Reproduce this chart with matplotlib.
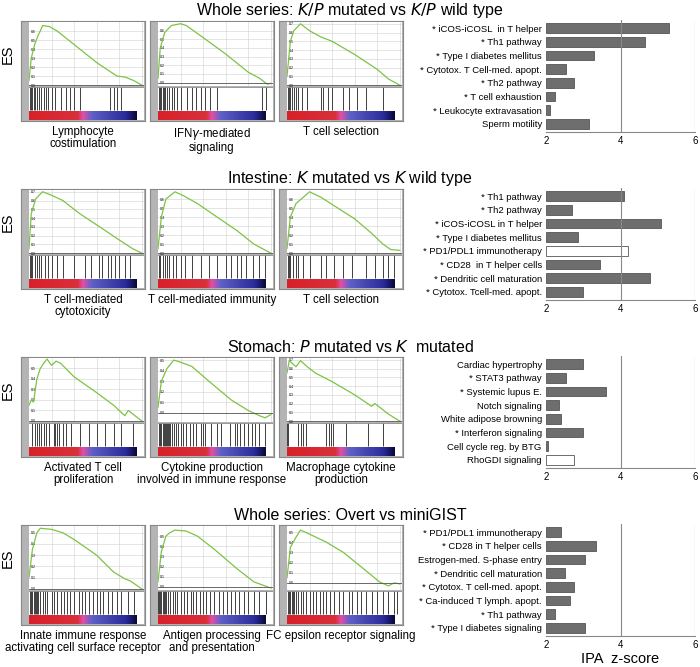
import numpy as np
import matplotlib.pyplot as plt
from matplotlib.colors import LinearSegmentedColormap

row_titles = [
    r'Whole series: $\it{K/P}$ mutated vs $\it{K/P}$ wild type',
    r'Intestine: $\it{K}$ mutated vs $\it{K}$ wild type',
    r'Stomach: $\it{P}$ mutated vs $\it{K}$  mutated',
    'Whole series: Overt vs miniGIST',
]

gsea_names = [
    ['Lymphocyte\ncostimulation', 'IFN$\\gamma$-mediated\nsignaling', 'T cell selection'],
    ['T cell-mediated\ncytotoxicity', 'T cell-mediated immunity', 'T cell selection'],
    ['Activated T cell\nproliferation', 'Cytokine production\ninvolved in immune response', 'Macrophage cytokine\nproduction'],
    ['Innate immune response\nactivating cell surface receptor', 'Antigen processing\nand presentation', 'FC epsilon receptor signaling'],
]

# enrichment score knots (rank fraction, ES)
es_x = [
    [[0, .02, .05, .08, .1, .12, .18, .25, .4, .6, .78, .85, .93, 1],
     [0, .02, .06, .12, .2, .25, .4, .6, .8, .9, .97, 1],
     [0, .03, .06, .12, .2, .3, .4, .6, .8, .9, 1]],
    [[0, .02, .06, .12, .2, .3, .45, .65, .8, .92, 1],
     [0, .03, .07, .15, .22, .35, .5, .7, .85, 1],
     [0, .03, .08, .2, .3, .45, .6, .75, .85, .92, 1]],
    [[0, .02, .04, .07, .1, .13, .16, .2, .24, .28, .4, .6, .75, .85, .88, 1],
     [0, .03, .08, .14, .2, .3, .45, .65, .8, .9, .95, 1],
     [0, .02, .08, .12, .18, .25, .4, .6, .75, .78, .9, 1]],
    [[0, .03, .07, .1, .2, .3, .4, .6, .75, .85, .9, 1],
     [0, .03, .07, .1, .15, .25, .35, .5, .7, .85, 1],
     [0, .03, .08, .12, .2, .35, .5, .7, .82, .9, .95, 1]],
]
es_y = [
    [[.05, .3, .45, .55, .6, .66, .65, .6, .45, .25, .1, .09, .05, 0],
     [.05, .4, .58, .66, .68, .66, .52, .33, .12, .05, -.02, -.01],
     [.1, .5, .62, .7, .62, .55, .5, .35, .18, .07, 0]],
    [[.05, .45, .62, .7, .66, .6, .45, .28, .15, .05, 0],
     [.05, .4, .6, .68, .64, .55, .42, .25, .1, 0],
     [.05, .4, .55, .68, .62, .5, .38, .22, .1, .04, .03]],
    [[.15, .2, .18, .4, .5, .55, .59, .53, .57, .55, .42, .27, .15, .05, .1, 0],
     [.05, .3, .42, .5, .48, .44, .3, .12, .02, -.03, -.05, -.02],
     [.55, .69, .62, .69, .62, .55, .45, .3, .17, .2, .08, 0]],
    [[.1, .35, .5, .54, .53, .5, .44, .3, .15, .09, .07, 0],
     [.05, .35, .5, .53, .56, .55, .5, .37, .18, .05, -.01],
     [.05, .35, .45, .52, .48, .4, .3, .12, .01, -.03, 0, -.01]],
]
es_ymax = [[.7, .7, .72], [.72, .7, .7], [.6, .52, .72], [.56, .6, .56]]
es_ymin = [[0, -.03, 0], [0, 0, 0], [0, -.08, 0], [0, -.02, -.06]]

hits = [
    [[.01, .02, .03, .04, .05, .07, .09, .11, .13, .15, .17, .2, .23, .28, .33, .36, .4, .45, .72, .75, .78, .82],
     [.01, .02, .03, .04, .05, .06, .08, .1, .12, .14, .17, .2, .26, .3, .34, .38, .42, .46, .52, .92, .96],
     [.01, .02, .03, .04, .06, .08, .1, .13, .18, .3, .32, .36, .4, .5, .55, .62, .7, .85]],
    [[.01, .02, .03, .05, .07, .09, .11, .14, .17, .2, .25, .3, .4, .5, .55, .62, .65, .7, .73, .76, .8, .85, .9],
     [.01, .02, .04, .06, .08, .1, .13, .16, .2, .24, .3, .38, .45, .52, .6, .65, .7, .74, .78, .84, .9, .95],
     [.01, .02, .03, .05, .08, .1, .14, .2, .3, .35, .42, .5, .58, .7, .78, .85, .9, .95]],
    [[.03, .05, .07, .09, .11, .13, .15, .18, .22, .23, .25, .27, .3, .33, .37, .45, .53, .6, .67, .75, .82, .92],
     [.01, .02, .03, .04, .05, .06, .07, .08, .09, .1, .11, .12, .14, .16, .18, .2, .22, .25, .28, .31, .34, .38, .4, .42, .47, .52, .56, .64, .68, .7, .73, .76, .8, .83, .86, .9, .95],
     [.0, .01, .1, .12, .14, .17, .35, .37, .39, .41, .52, .72, .85]],
    [[.01, .02, .03, .04, .05, .06, .07, .08, .1, .12, .14, .16, .2, .22, .25, .28, .31, .34, .36, .4, .44, .47, .5, .53, .57, .6, .63, .66, .7, .74, .78, .82, .88, .93],
     [.0, .01, .02, .03, .04, .05, .06, .07, .09, .11, .13, .15, .17, .2, .23, .26, .29, .31, .34, .37, .4, .43, .46, .5, .54, .58, .61, .65, .68, .72, .76, .8, .85, .9, .96],
     [.01, .02, .03, .04, .05, .06, .08, .1, .12, .14, .17, .2, .23, .26, .29, .32, .35, .38, .42, .46, .5, .55, .58, .62, .66, .7, .75, .8, .85, .9, .95, .98]],
]

bar_labels = [
    ['* iCOS-iCOSL  in T helper', '* Th1 pathway', '* Type I diabetes mellitus', '* Cytotox. T Cell-med. apopt.',
     '* Th2 pathway', '* T cell exhaustion', '* Leukocyte extravasation', 'Sperm motility'],
    ['* Th1 pathway', '* Th2 pathway', '* iCOS-iCOSL in T helper', '* Type I diabetes mellitus',
     '* PD1/PDL1 immunotherapy', '* CD28  in T helper cells', '* Dendritic cell maturation', '* Cytotox. Tcell-med. apopt.'],
    ['Cardiac hypertrophy', '* STAT3 pathway', '* Systemic lupus E.', 'Notch signaling',
     'White adipose browning', '* Interferon signaling', 'Cell cycle reg. by BTG', 'RhoGDI signaling'],
    ['* PD1/PDL1 immunotherapy', '* CD28 in T helper cells', 'Estrogen-med. S-phase entry', '* Dendritic cell maturation',
     '* Cytotox. T cell-med. apopt.', '* Ca-induced T lymph. apopt.', '* Th1 pathway', '* Type I diabetes signaling'],
]
bar_values = [
    [5.3, 4.65, 3.3, 2.55, 2.75, 2.25, 2.1, 3.15],
    [4.1, 2.7, 5.1, 2.85, 4.2, 3.45, 4.8, 3.0],
    [3.0, 2.55, 3.6, 2.35, 2.4, 3.0, 2.05, 2.75],
    [2.4, 3.35, 3.05, 2.5, 2.75, 2.65, 2.25, 3.05],
]
bar_open = [[], [4], [7], []]

W, H = 700, 667
fig = plt.figure(figsize=(7, 6.67), dpi=100)
plt.rcParams['font.family'] = ['Liberation Sans', 'DejaVu Sans']


def ax_px(x, y, w, h):
    # pixel box (top-left origin) -> figure axes
    return fig.add_axes([x / W, 1 - (y + h) / H, w / W, h / H])


rank_cmap = LinearSegmentedColormap.from_list(
    'rank', [(0, '#d8202a'), (0.45, '#d8303a'), (0.5, '#e050a8'), (0.58, '#6060c8'),
             (0.9, '#2a2a9a'), (1, '#080838')])
grad = np.linspace(0, 1, 200)[None, :]

panel_x = [21, 150, 279]
panel_w = 124
row_off = 168

for r in range(4):
    top = 21 + r * row_off
    fig.text(350 / W, 1 - (11 + r * row_off) / H, row_titles[r], ha='center', va='center', fontsize=11.5)
    fig.text(8 / W, 1 - (top + 33) / H, 'ES', rotation=90, ha='center', va='center', fontsize=10.5)
    for c in range(3):
        x0 = panel_x[c]
        frame = ax_px(x0, top, panel_w, 100)
        frame.set_facecolor('#b4b4b4')
        frame.set_xticks([]); frame.set_yticks([])
        for s in frame.spines.values():
            s.set_color('#888888'); s.set_linewidth(0.8)
        # ES curve
        ax = ax_px(x0 + 8, top + 1, panel_w - 9, 64)
        ax.plot(es_x[r][c], es_y[r][c], color='#7cc444', lw=0.9)
        ax.axhline(0, color='#555555', lw=0.6)
        ax.set_xlim(0, 1.02)
        ax.set_ylim(es_ymin[r][c] - 0.01, es_ymax[r][c])
        ax.set_xticks([0.2, 0.4, 0.6, 0.8, 1.0])
        ax.set_xticklabels([])
        ax.set_yticks(np.arange(0, es_ymax[r][c], 0.1))
        ax.set_yticklabels(['%.1f' % v for v in np.arange(0, es_ymax[r][c], 0.1)], fontsize=2.5)
        ax.tick_params(length=0, pad=0.5)
        ax.yaxis.set_tick_params(pad=-5)
        ax.grid(True, color='#d0d0d0', lw=0.4)
        for s in ax.spines.values():
            s.set_visible(False)
        # hits + ranked list bar
        hx = ax_px(x0 + 8, top + 66, panel_w - 9, 33)
        hx.set_xlim(0, 1.02)
        hx.set_ylim(0, 1)
        hx.vlines(hits[r][c], 0.3, 1, color='#202020', lw=0.6)
        hx.imshow(grad, cmap=rank_cmap, aspect='auto', extent=(0, 0.95, 0, 0.27))
        hx.set_xticks([]); hx.set_yticks([])
        hx.axhline(1, color='#888888', lw=0.6)
        for s in hx.spines.values():
            s.set_visible(False)
        fig.text((x0 + panel_w / 2) / W, 1 - (top + 105) / H, gsea_names[r][c],
                 ha='center', va='top', fontsize=8.3, linespacing=1.0)

    # IPA bars
    bx = ax_px(546, top - 1, 149, 112)
    n = len(bar_values[r])
    pos = np.arange(n)
    colors = ['white' if i in bar_open[r] else '#6e6e6e' for i in range(n)]
    bx.barh(pos, [v - 2 for v in bar_values[r]], left=2, height=0.72, color=colors,
            edgecolor='#555555', linewidth=0.6)
    bx.set_xlim(2, 6)
    bx.set_ylim(n - 0.4, -0.6)
    bx.set_yticks(pos)
    bx.set_yticklabels(bar_labels[r], fontsize=6.8)
    bx.set_xticks([2, 4, 6])
    bx.set_xticklabels(['2', '4', '6'], fontsize=7)
    bx.tick_params(length=0, pad=3)
    bx.axvline(4, color='#888888', lw=0.8)
    bx.axvline(6, color='#888888', lw=0.8)
    for k in ['top', 'right', 'left']:
        bx.spines[k].set_visible(False)
    bx.spines['bottom'].set_color('#888888')

fig.text(620 / W, 1 - 659 / H, 'IPA  z-score', ha='center', va='center', fontsize=10.5)
fig.savefig('out.png', dpi=100)
